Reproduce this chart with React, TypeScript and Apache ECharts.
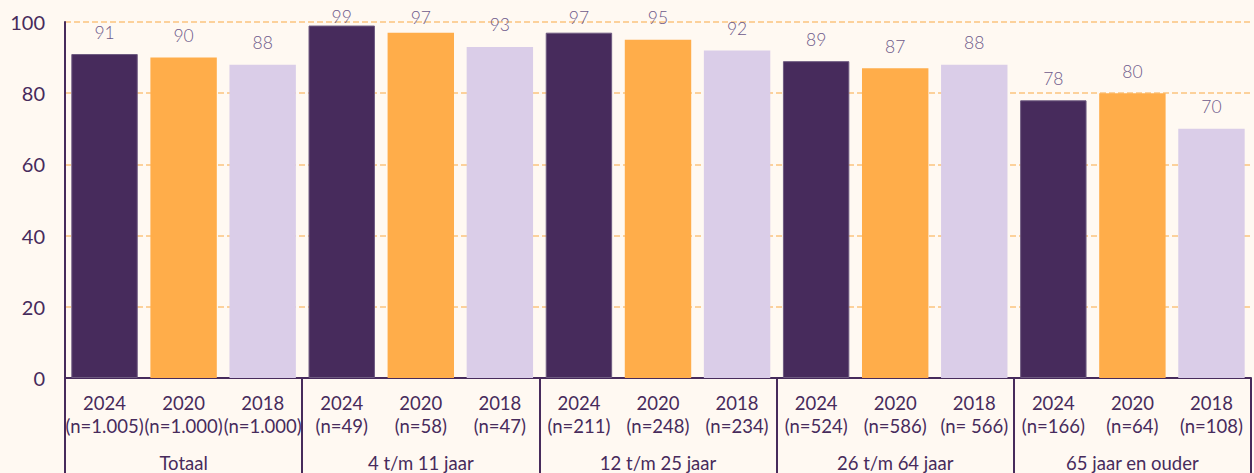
import React, { useEffect, useRef } from "react";
import * as echarts from "echarts";

const groups = ["Totaal", "4 t/m 11 jaar", "12 t/m 25 jaar", "26 t/m 64 jaar", "65 jaar en ouder"];
const years = ["2024", "2020", "2018"];
const sampleSizes = [
  ["(n=1.005)", "(n=1.000)", "(n=1.000)"],
  ["(n=49)", "(n=58)", "(n=47)"],
  ["(n=211)", "(n=248)", "(n=234)"],
  ["(n=524)", "(n=586)", "(n= 566)"],
  ["(n=166)", "(n=64)", "(n=108)"],
];
const values = [
  [91, 90, 88],
  [99, 97, 93],
  [97, 95, 92],
  [89, 87, 88],
  [78, 80, 70],
];
const yTicks = [0, 20, 40, 60, 80, 100];
const yearColors = ["#472b5c", "#ffad4a", "#dacde8"];

export default function App() {
  const ref = useRef<HTMLDivElement>(null);
  useEffect(() => {
    document.body.style.margin = "0";
    const chart = echarts.init(ref.current!, null, { renderer: "svg" });
    const gridTop = 22;
    const gridBottom = 95;
    const plotH = 473 - gridTop - gridBottom;
    const yMax = yTicks[yTicks.length - 1];
    const cats: string[] = [];
    const data: any[] = [];
    groups.forEach((g, gi) => {
      years.forEach((y, yi) => {
        const v = values[gi][yi];
        // labels sit ~13px above bars but never rise above the top of the chart
        const barTop = gridTop + ((yMax - v) / yMax) * plotH;
        const dist = Math.max(0, Math.min(13, barTop - 17 - 9));
        cats.push(y + "\n" + sampleSizes[gi][yi]);
        data.push({
          value: v,
          label: { distance: dist },
          itemStyle: {
            color: yearColors[yi],
            borderColor: yi === 0 ? "#6e5a80" : yearColors[yi],
            borderWidth: yi === 0 ? 1 : 0,
          },
        });
      });
    });
    const dark = "#472b5c";
    chart.setOption({
      animation: false,
      backgroundColor: "#fff9f2",
      textStyle: { fontFamily: "Lato" },
      grid: { left: 65, right: 3, top: gridTop, bottom: gridBottom },
      xAxis: [
        {
          type: "category",
          data: cats,
          axisLine: { show: true, lineStyle: { color: dark, width: 2 } },
          axisTick: { show: false },
          axisLabel: {
            interval: 0,
            color: dark,
            fontSize: 18.5,
            lineHeight: 23,
            margin: 13,
            fontFamily: "Lato",
          },
        },
        {
          type: "category",
          position: "bottom",
          data: groups,
          axisLine: { show: false },
          axisTick: { show: true, interval: 0, length: 95, lineStyle: { color: dark, width: 2 } },
          axisLabel: { interval: 0, color: dark, fontSize: 18.5, margin: 75, fontFamily: "Lato" },
          splitLine: { show: false },
        },
      ],
      yAxis: {
        type: "value",
        min: yTicks[0],
        max: yMax,
        interval: 20,
        axisLine: { show: true, lineStyle: { color: dark, width: 2 } },
        axisTick: { show: false },
        axisLabel: { color: dark, fontSize: 20, margin: 20, fontFamily: "Lato" },
        splitLine: { show: true, lineStyle: { color: "#fbc47f", type: [6, 3], width: 1.5 } },
      },
      series: [
        {
          type: "bar",
          xAxisIndex: 0,
          data,
          barCategoryGap: "16%",
          label: {
            show: true,
            position: "top",
            distance: 13,
            color: "#6e5a8a",
            fontSize: 17.5,
            fontFamily: "Lato",
            fontWeight: 300,
          },
        },
      ],
    });
    return () => chart.dispose();
  }, []);
  return <div ref={ref} style={{ width: 1254, height: 473 }} />;
}
